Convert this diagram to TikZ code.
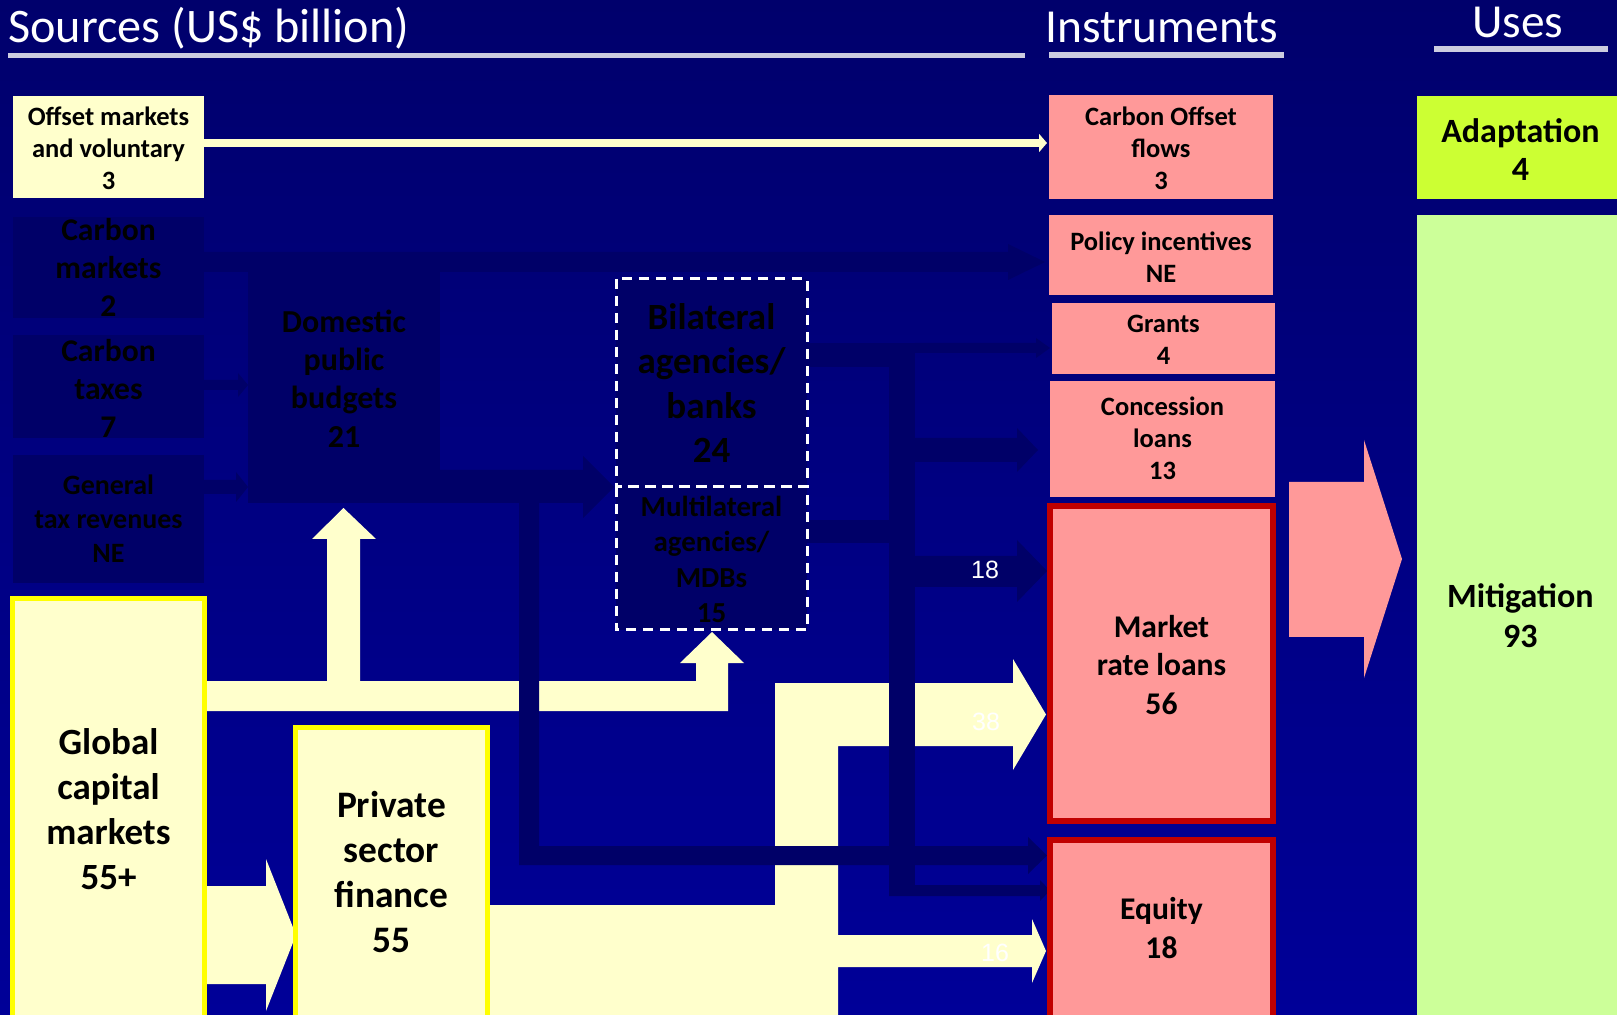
\documentclass[tikz,border=0pt]{standalone}
\usepackage{fontspec}
\setmainfont{Carlito}
\newfontfamily\arialf{Liberation Sans}
\usetikzlibrary{fit,arrows.meta}
\definecolor{bgtop}{RGB}{0,0,108}
\definecolor{bgbot}{RGB}{0,0,152}
\definecolor{darkshape}{RGB}{0,0,104}
\definecolor{cream}{RGB}{255,255,204}
\definecolor{pinkbox}{RGB}{255,153,153}
\definecolor{redborder}{RGB}{192,0,0}
\definecolor{yellowborder}{RGB}{255,255,0}
\definecolor{adaptcol}{RGB}{204,255,51}
\definecolor{mitigcol}{RGB}{204,255,153}
\definecolor{ruleline}{RGB}{204,204,224}
\newcommand\fsz[2]{\bfseries\fontsize{#1}{#2}\selectfont}
\begin{document}
\begin{tikzpicture}[x=0.5pt,y=-0.5pt,
  box/.style={inner sep=0pt, outer sep=0pt},
  txt/.style={inner sep=0pt, outer sep=0pt, align=center, text=black},
  darkbox/.style={box, fill=darkshape},
  pinkinst/.style={box, fill=pinkbox},
  redinst/.style={box, fill=pinkbox, draw=redborder, line width=3pt},
  yellowsrc/.style={box, fill=cream, draw=yellowborder, line width=2.5pt},
  dashbox/.style={draw=white, line width=1.5pt, dash pattern=on 5pt off 3.5pt},
  darkarrow/.style={fill=darkshape},
  creamarrow/.style={fill=cream},
  header/.style={anchor=base west, inner sep=0pt, text=white, font=\fontsize{23.7}{28}\selectfont},
  flowlabel/.style={text=white, inner sep=0pt, font=\arialf\fontsize{12.5}{15}\selectfont}
]
\useasboundingbox (0,0) rectangle (1617,1015);
\clip (0,0) rectangle (1617,1015);
\shade[top color=bgtop, bottom color=bgbot] (0,0) rectangle (1617,1015);

% headers
\node[header, font=\fontsize{24.1}{28}\selectfont] (hsrc) at (8,43) {Sources (US\$ billion)};
\node[header] (hins) at (1045,43) {Instruments};
\node[header] (huse) at (1472,38) {Uses};
\fill[ruleline] (8,53) rectangle (1025,58);
\fill[ruleline] (1049,52) rectangle (1284,58);
\fill[ruleline] (1434,46) rectangle (1608,52);

% cream block arrows
\fill[creamarrow] (206,681) -- (327,681) -- (327,539) -- (312,539) -- (343.5,508) -- (376,539) -- (360,539) -- (360,681)
  -- (696,681) -- (696,663) -- (680,663) -- (712,632) -- (744,663) -- (728,663) -- (728,711) -- (206,711) -- cycle;
\fill[creamarrow] (204,886) -- (266,886) -- (266,859) -- (296,935) -- (266,1011) -- (266,984) -- (204,984) -- cycle;
\fill[creamarrow] (487,905) -- (775,905) -- (775,683) -- (1013,683) -- (1013,659) -- (1046,714.5) -- (1013,770) -- (1013,746)
  -- (838,746) -- (838,935) -- (1032,935) -- (1032,919) -- (1046,951) -- (1032,983) -- (1032,967) -- (838,967)
  -- (838,1020) -- (487,1020) -- cycle;

% dark block arrows
\fill[darkarrow] (204,252) -- (1008,252) -- (1008,244) -- (1045,262) -- (1008,280) -- (1008,272) -- (204,272) -- cycle;
\fill[darkarrow] (204,380) -- (238,380) -- (238,373) -- (248,385) -- (238,397) -- (238,390) -- (204,390) -- cycle;
\fill[darkarrow] (204,480) -- (236,480) -- (236,472) -- (248,487) -- (236,502) -- (236,494) -- (204,494) -- cycle;
\fill[darkarrow] (440,470) -- (583,470) -- (583,456) -- (614,487) -- (583,518) -- (583,503) -- (440,503) -- cycle;
\fill[darkarrow] (519,500) -- (539,500) -- (539,846) -- (1028,846) -- (1028,837) -- (1047,855.5) -- (1028,874) -- (1028,865) -- (519,865) -- cycle;
\fill[darkarrow] (805,343) rectangle (889,367);
\fill[darkarrow] (889,343) rectangle (915,896);
\fill[darkarrow] (915,343) -- (1036,343) -- (1036,338) -- (1050,348) -- (1036,358) -- (1036,353) -- (915,353) -- cycle;
\fill[darkarrow] (915,438) -- (1017,438) -- (1017,428) -- (1038,450) -- (1017,472) -- (1017,462) -- (915,462) -- cycle;
\fill[darkarrow] (805,520) rectangle (889,543);
\fill[darkarrow] (915,556) -- (1017,556) -- (1017,540) -- (1047,571) -- (1017,602) -- (1017,587) -- (915,587) -- cycle;
\fill[darkarrow] (889,885) -- (1040,885) -- (1040,880) -- (1050,890.5) -- (1040,901) -- (1040,896) -- (889,896) -- cycle;

% pink big arrow to uses
\fill[pinkbox] (1289,482) -- (1364,482) -- (1364,440) -- (1402,559) -- (1364,678) -- (1364,637) -- (1289,637) -- cycle;

% flow labels
\node[flowlabel] (l18) at (985,570) {18};
\node[flowlabel] (l38) at (986,722) {38};
\node[flowlabel] (l16) at (995,953) {16};

% source boxes
\node[box, fill=cream, fit={(13,96) (204,198)}] (offset) {};
\node[txt, font=\fsz{13.25}{16}, yshift=-0.6pt] (offset-t) at (offset) {Offset markets\\and voluntary\\3};
\node[darkbox, fit={(13,217) (204,318)}] (cmkt) {};
\node[txt, font=\fsz{15.8}{19}, yshift=0pt] (cmkt-t) at (cmkt) {Carbon\\markets\\2};
\node[darkbox, fit={(13,335) (204,438)}] (ctax) {};
\node[txt, font=\fsz{15.8}{19}, yshift=-1pt] (ctax-t) at (ctax) {Carbon\\taxes\\7};
\node[darkbox, fit={(13,455) (204,583)}] (gtax) {};
\node[txt, font=\fsz{14}{17}, yshift=0pt] (gtax-t) at (gtax) {General\\tax revenues\\NE};
\node[darkbox, fit={(248,252) (440,503)}] (dom) {};
\node[txt, font=\fsz{16}{19.2}, yshift=-0.5pt] (dom-t) at (dom) {Domestic\\public\\budgets\\21};
\node[darkbox, fit={(616,279) (807,487)}] (bil) {};
\node[txt, font=\fsz{18.5}{22.3}, yshift=0pt] (bil-t) at (bil) {Bilateral\\agencies/\\banks\\24};
\node[darkbox, fit={(616,487) (807,630)}] (mul) {};
\node[txt, font=\fsz{14.5}{17.8}, yshift=-0.5pt] (mul-t) at (mul) {Multilateral\\agencies/\\MDBs\\15};
\draw[dashbox] (bil.north west) rectangle (bil.south east);
\draw[dashbox] (mul.north west) rectangle (mul.south east);
\node[yellowsrc, fit={(12.5,598.5) (204.5,1020)}] (gcm) {};
\node[txt, font=\fsz{18.5}{22.5}, yshift=0pt] (gcm-t) at (gcm) {Global\\capital\\markets\\55+};
\node[yellowsrc, fit={(295.5,727.5) (487.5,1020)}] (psf) {};
\node[txt, font=\fsz{18.7}{22.5}, yshift=1pt] (psf-t) at (psf) {Private\\sector\\finance\\55};

% instruments
\node[pinkinst, fit={(1049,95) (1273,199)}] (cof) {};
\node[txt, font=\fsz{13.25}{16}, yshift=-0.6pt] (cof-t) at (cof) {Carbon Offset\\flows\\3};
\node[pinkinst, fit={(1049,215) (1273,295)}] (pol) {};
\node[txt, font=\fsz{13.25}{16}, yshift=-1.1pt] (pol-t) at (pol) {Policy incentives\\NE};
\node[pinkinst, fit={(1052,303) (1275,374)}] (gra) {};
\node[txt, font=\fsz{13.25}{16}, yshift=-0.5pt] (gra-t) at (gra) {Grants\\4};
\node[pinkinst, fit={(1050,381) (1275,497)}] (con) {};
\node[txt, font=\fsz{13.25}{16}, yshift=0.6pt] (con-t) at (con) {Concession\\loans\\13};
\node[redinst, fit={(1050,506) (1273,821)}] (mrl) {};
\node[txt, font=\fsz{15.8}{19.2}, yshift=-0.7pt] (mrl-t) at (mrl) {Market\\rate loans\\56};
\node[redinst, fit={(1050,840) (1273,1020)}] (equ) {};
\node[txt, font=\fsz{15.8}{19.2}, yshift=1pt] (equ-t) at (equ) {Equity\\18};

% uses
\node[box, fill=adaptcol, fit={(1417,96) (1617,199)}] (ada) {};
\node[txt, font=\fsz{17}{19}, yshift=-1pt, xshift=1.7pt] (ada-t) at (ada) {Adaptation\\4};
\node[box, fill=mitigcol, fit={(1417,215) (1617,1015)}] (mit) {};
\node[txt, font=\fsz{17}{20}, yshift=-0.2pt, xshift=1.7pt] (mit-t) at (mit) {Mitigation\\93};

% offset arrow
\draw[cream, line width=4pt, -{Triangle[length=4pt,width=9pt]}] ([yshift=2pt]offset.east) -- ([yshift=2pt,xshift=-1pt]cof.west);
\end{tikzpicture}
\end{document}
